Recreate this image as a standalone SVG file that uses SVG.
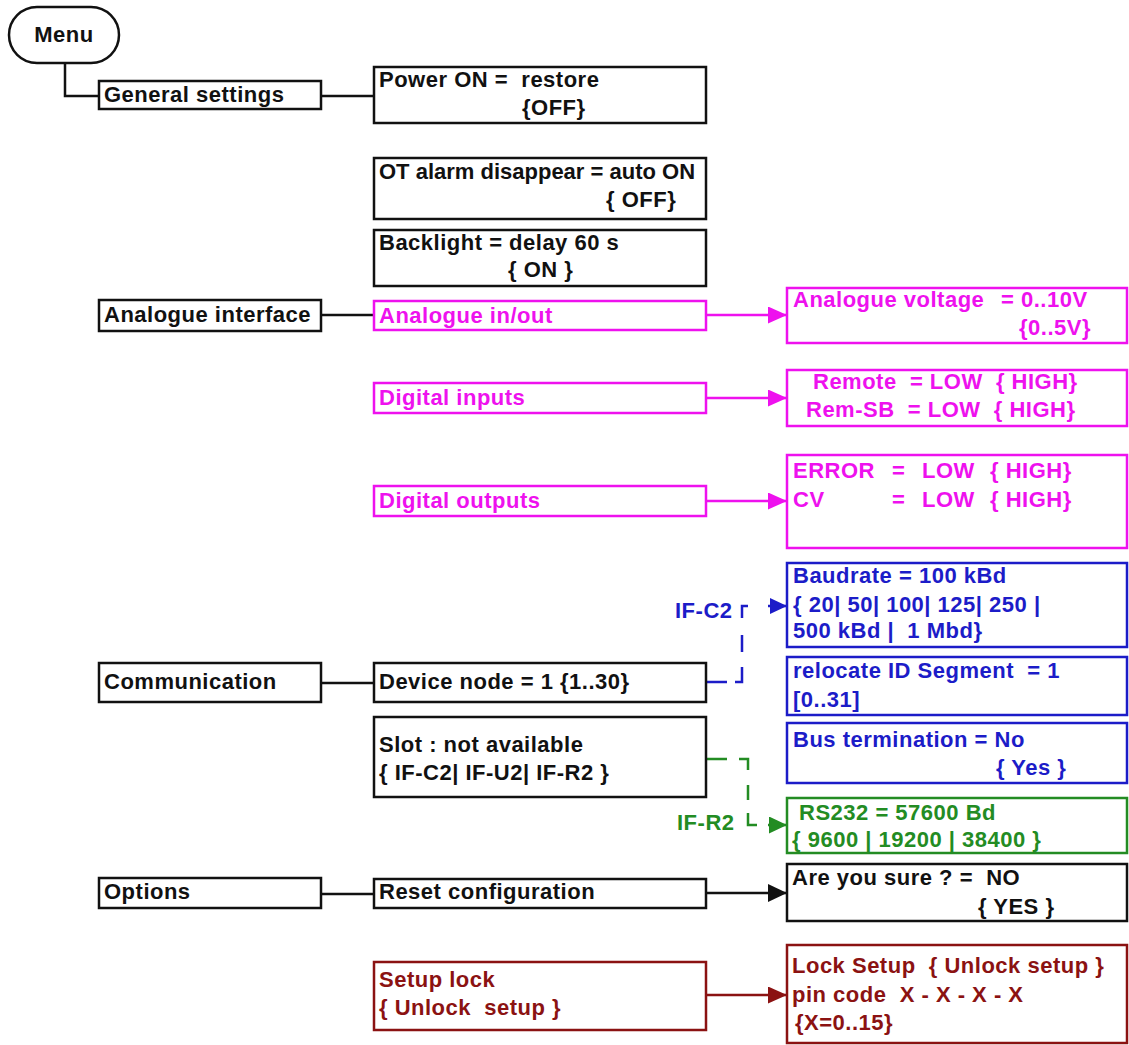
<svg xmlns="http://www.w3.org/2000/svg" width="1129" height="1045" viewBox="0 0 1129 1045" xml:space="preserve">
<style>
  text { font-family: "Liberation Sans", Arial, sans-serif; font-weight: bold; font-size: 22px; letter-spacing: 0.5px; white-space: pre; }
  .box { fill: #ffffff; stroke-width: 2.5; }
  .k { stroke: #111111; }
  .m { stroke: #ee11ee; }
  .b { stroke: #1c1cc8; }
  .g { stroke: #238c23; }
  .r { stroke: #8b1212; }
  .tk { fill: #111111; }
  .tm { fill: #ee11ee; }
  .tb { fill: #1c1cc8; }
  .tg { fill: #238c23; }
  .tr { fill: #8b1212; }
  .line { fill: none; stroke-width: 2.5; }
</style>
<defs>
  <marker id="ak" markerUnits="userSpaceOnUse" markerWidth="19" markerHeight="18" refX="19" refY="9" orient="auto"><path d="M0,0 L19,9 L0,18 z" fill="#111111"/></marker>
  <marker id="am" markerUnits="userSpaceOnUse" markerWidth="19" markerHeight="17" refX="19" refY="8.5" orient="auto"><path d="M0,0 L19,8.5 L0,17 z" fill="#ee11ee"/></marker>
  <marker id="ab" markerUnits="userSpaceOnUse" markerWidth="17" markerHeight="16" refX="17" refY="8" orient="auto"><path d="M0,0 L17,8 L0,16 z" fill="#1c1cc8"/></marker>
  <marker id="ag" markerUnits="userSpaceOnUse" markerWidth="18" markerHeight="17" refX="18" refY="8.5" orient="auto"><path d="M0,0 L18,8.5 L0,17 z" fill="#238c23"/></marker>
  <marker id="ar" markerUnits="userSpaceOnUse" markerWidth="19" markerHeight="17" refX="19" refY="8.5" orient="auto"><path d="M0,0 L19,8.5 L0,17 z" fill="#8b1212"/></marker>
</defs>

<g id="connectors">
  <path class="line k" d="M65,63 V96 H99"/>
  <path class="line k" d="M321,96 H374"/>
  <path class="line k" d="M321,315 H374"/>
  <path class="line k" d="M321,683 H374"/>
  <path class="line k" d="M321,894 H374"/>
  <path class="line m" stroke-width="3" d="M706,315 H787" marker-end="url(#am)"/>
  <path class="line m" stroke-width="3" d="M706,398 H787" marker-end="url(#am)"/>
  <path class="line m" stroke-width="3" d="M706,501 H787" marker-end="url(#am)"/>
  <path class="line b" d="M707,682 H742 V606 H787" stroke-dasharray="20 8 22 15 17 17 18 20 19 0" marker-end="url(#ab)"/>
  <path class="line g" d="M707,759 H748 V825 H787" stroke-dasharray="20 12 20 15 15 13 21 11 19 0" marker-end="url(#ag)"/>
  <path class="line k" d="M706,893 H787" marker-end="url(#ak)"/>
  <path class="line r" stroke-width="3" d="M706,995 H787" marker-end="url(#ar)"/>
  <text class="tb" x="675" y="618">IF-C2</text>
  <text class="tg" x="677" y="830">IF-R2</text>
</g>

<g id="menu">
  <rect class="box k" x="9" y="7" width="110" height="56" rx="28"/>
  <text class="tk" x="64" y="42" text-anchor="middle">Menu</text>
</g>

<g id="general-settings">
  <rect class="box k" x="99" y="81" width="222" height="28"/>
  <text class="tk" x="104" y="102">General settings</text>
</g>
<g id="analogue-interface">
  <rect class="box k" x="99" y="300" width="222" height="31"/>
  <text class="tk" x="104" y="322">Analogue interface</text>
</g>
<g id="communication">
  <rect class="box k" x="99" y="663" width="222" height="39"/>
  <text class="tk" x="104" y="689">Communication</text>
</g>
<g id="options">
  <rect class="box k" x="99" y="878" width="222" height="30"/>
  <text class="tk" x="104" y="899">Options</text>
</g>

<g id="power-on">
  <rect class="box k" x="374" y="67" width="332" height="56"/>
  <text class="tk" x="379" y="87">Power ON =  restore</text>
  <text class="tk" x="522" y="115">{OFF}</text>
</g>
<g id="ot-alarm">
  <rect class="box k" x="374" y="158" width="332" height="61"/>
  <text class="tk" x="379" y="179" style="letter-spacing:0">OT alarm disappear = auto ON</text>
  <text class="tk" x="606" y="207">{ OFF}</text>
</g>
<g id="backlight">
  <rect class="box k" x="374" y="230" width="332" height="56"/>
  <text class="tk" x="379" y="250">Backlight = delay 60 s</text>
  <text class="tk" x="508" y="277">{ ON }</text>
</g>
<g id="analogue-in-out">
  <rect class="box m" x="374" y="301" width="332" height="29"/>
  <text class="tm" x="379" y="323">Analogue in/out</text>
</g>
<g id="digital-inputs">
  <rect class="box m" x="374" y="383" width="332" height="30"/>
  <text class="tm" x="379" y="405">Digital inputs</text>
</g>
<g id="digital-outputs">
  <rect class="box m" x="374" y="486" width="332" height="30"/>
  <text class="tm" x="379" y="508">Digital outputs</text>
</g>
<g id="device-node">
  <rect class="box k" x="374" y="663" width="332" height="39"/>
  <text class="tk" x="379" y="689">Device node = 1 {1..30}</text>
</g>
<g id="slot">
  <rect class="box k" x="374" y="717" width="332" height="80"/>
  <text class="tk" x="379" y="752">Slot : not available</text>
  <text class="tk" x="379" y="780">{ IF-C2| IF-U2| IF-R2 }</text>
</g>
<g id="reset-configuration">
  <rect class="box k" x="374" y="879" width="332" height="29"/>
  <text class="tk" x="379" y="899">Reset configuration</text>
</g>
<g id="setup-lock">
  <rect class="box r" x="374" y="962" width="332" height="68"/>
  <text class="tr" x="379" y="987">Setup lock</text>
  <text class="tr" x="379" y="1015">{ Unlock  setup }</text>
</g>

<g id="analogue-voltage">
  <rect class="box m" x="787" y="288" width="340" height="55"/>
  <text class="tm" x="793" y="307">Analogue voltage</text>
  <text class="tm" x="1001" y="307">= 0..10V</text>
  <text class="tm" x="1019" y="335">{0..5V}</text>
</g>
<g id="remote">
  <rect class="box m" x="787" y="370" width="340" height="56"/>
  <text class="tm" x="813" y="389">Remote  = LOW  { HIGH}</text>
  <text class="tm" x="806" y="417">Rem-SB  = LOW  { HIGH}</text>
</g>
<g id="error-cv">
  <rect class="box m" x="787" y="455" width="340" height="93"/>
  <text class="tm" y="478"><tspan x="793">ERROR</tspan><tspan x="892">=</tspan><tspan x="922">LOW</tspan><tspan x="990">{ HIGH}</tspan></text>
  <text class="tm" y="507"><tspan x="793">CV</tspan><tspan x="892">=</tspan><tspan x="922">LOW</tspan><tspan x="990">{ HIGH}</tspan></text>
</g>
<g id="baudrate">
  <rect class="box b" x="787" y="563" width="340" height="84"/>
  <text class="tb" x="793" y="583">Baudrate = 100 kBd</text>
  <text class="tb" x="793" y="612">{ 20| 50| 100| 125| 250 |</text>
  <text class="tb" x="793" y="638">500 kBd |  1 Mbd}</text>
</g>
<g id="relocate-id">
  <rect class="box b" x="787" y="657" width="340" height="58"/>
  <text class="tb" x="793" y="678">relocate ID Segment  = 1</text>
  <text class="tb" x="793" y="707">[0..31]</text>
</g>
<g id="bus-termination">
  <rect class="box b" x="787" y="723" width="340" height="60"/>
  <text class="tb" x="793" y="747">Bus termination = No</text>
  <text class="tb" x="996" y="775">{ Yes }</text>
</g>
<g id="rs232">
  <rect class="box g" x="787" y="798" width="340" height="55"/>
  <text class="tg" x="799" y="820">RS232 = 57600 Bd</text>
  <text class="tg" x="792" y="847">{ 9600 | 19200 | 38400 }</text>
</g>
<g id="are-you-sure">
  <rect class="box k" x="787" y="864" width="340" height="57"/>
  <text class="tk" x="792" y="885">Are you sure ? =  NO</text>
  <text class="tk" x="978" y="914">{ YES }</text>
</g>
<g id="lock-setup">
  <rect class="box r" x="787" y="945" width="340" height="98"/>
  <text class="tr" x="792" y="973">Lock Setup  { Unlock setup }</text>
  <text class="tr" x="792" y="1002">pin code  X - X - X - X</text>
  <text class="tr" x="795" y="1030">{X=0..15}</text>
</g>
</svg>
